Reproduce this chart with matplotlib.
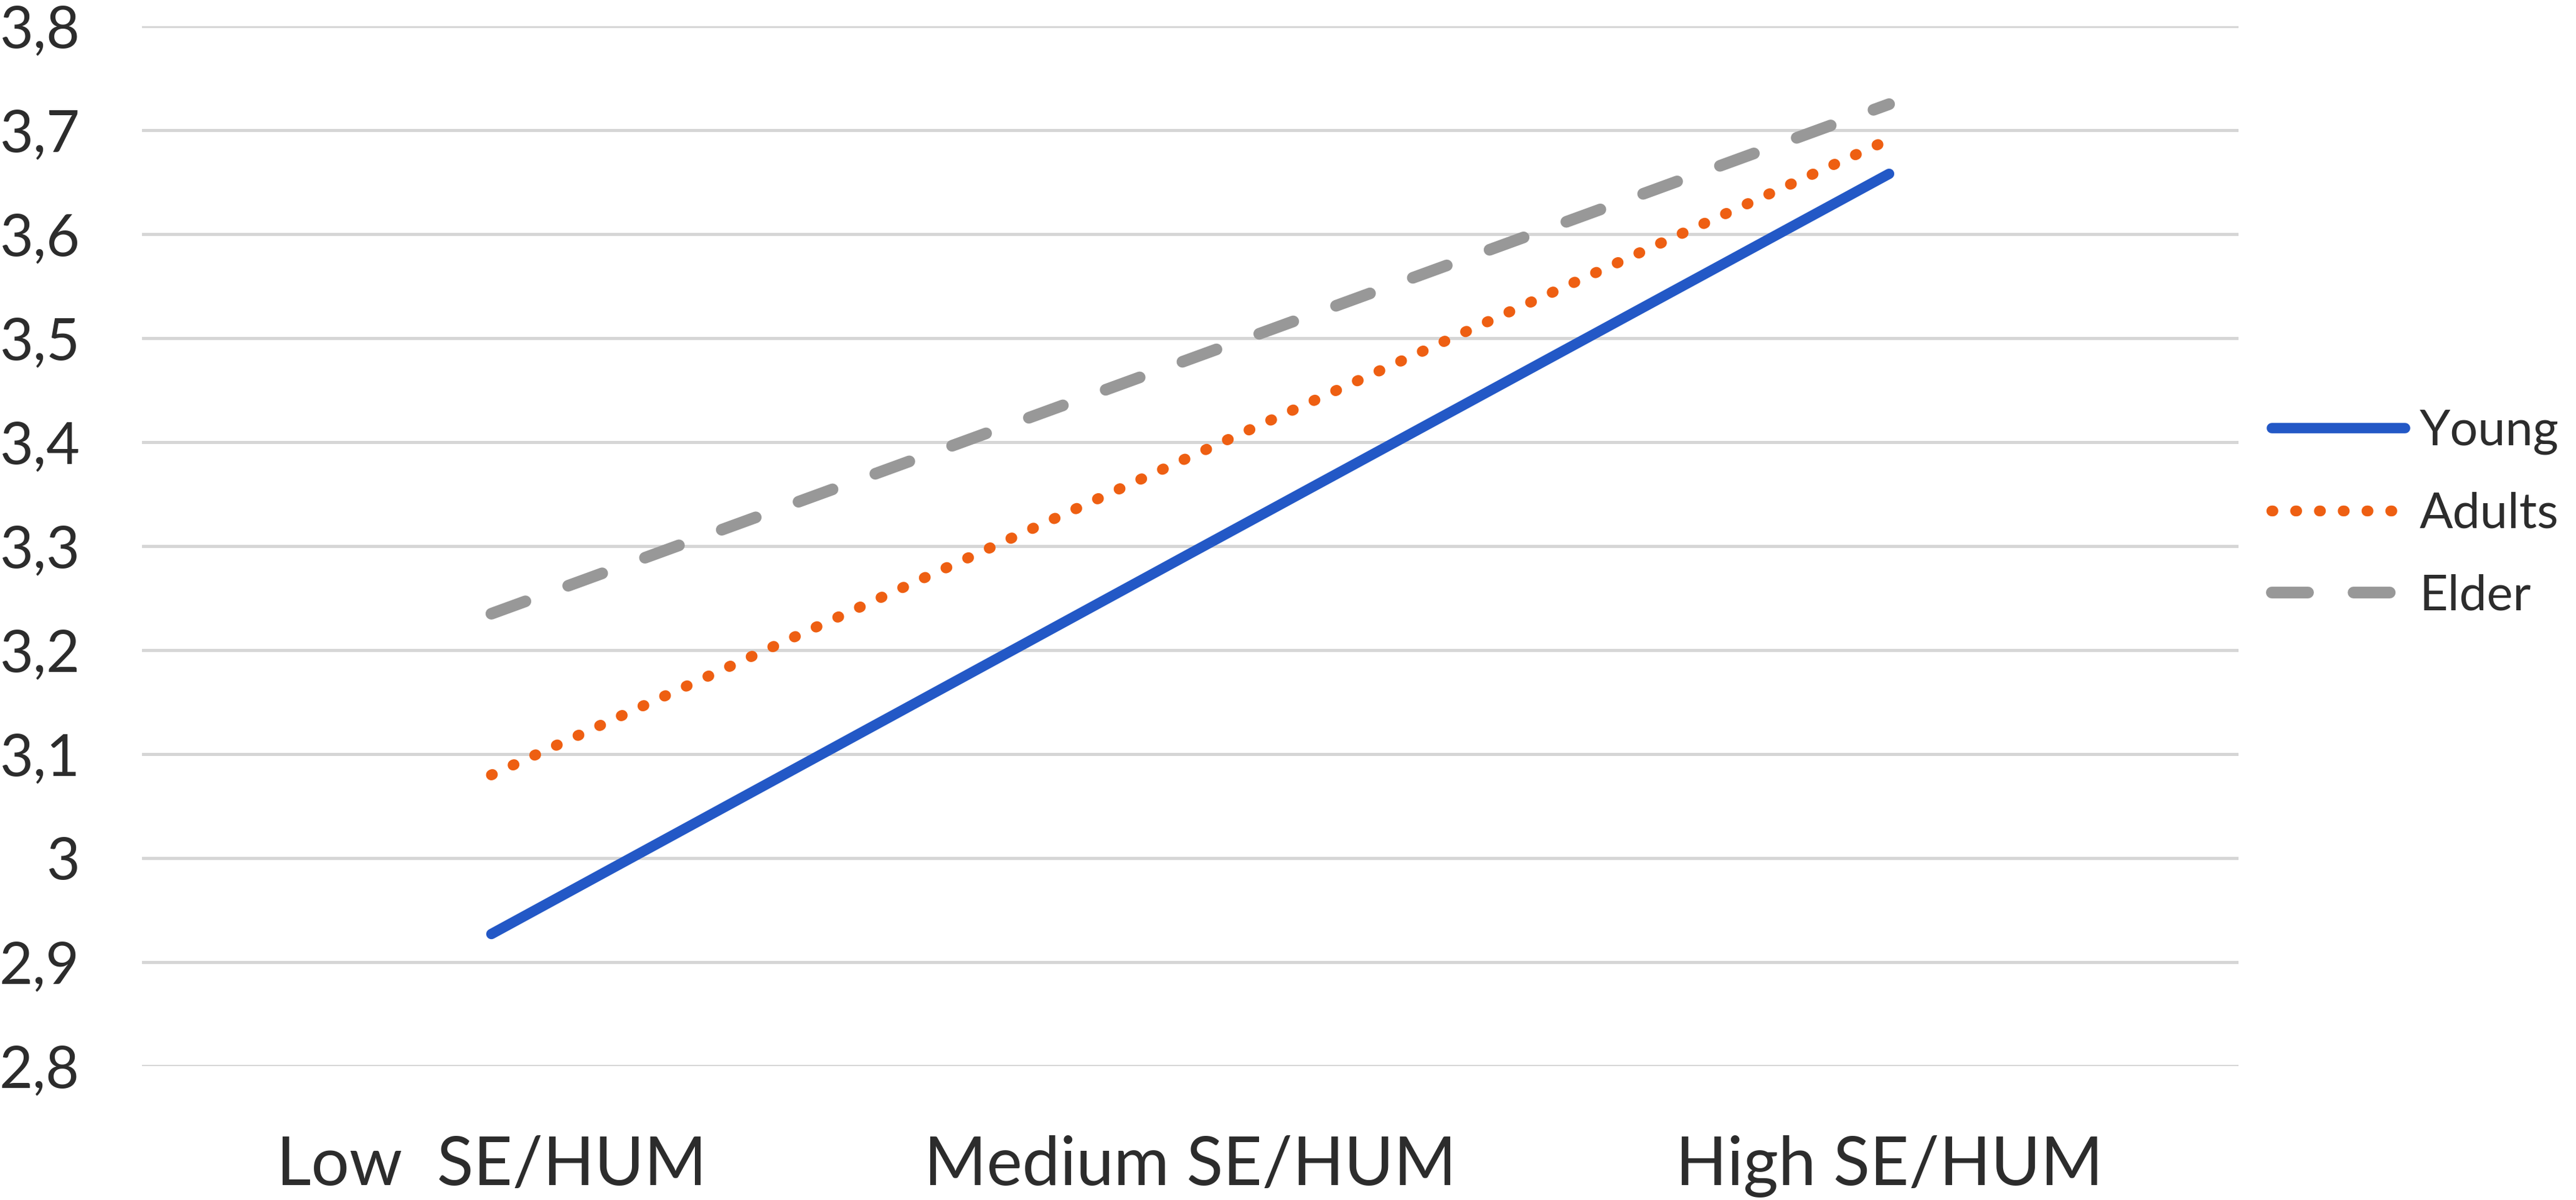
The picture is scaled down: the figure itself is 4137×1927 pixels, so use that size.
import matplotlib
matplotlib.use("Agg")
import matplotlib.pyplot as plt
from matplotlib.ticker import FixedLocator

categories = ["Low  SE/HUM", "Medium SE/HUM", "High SE/HUM"]
series_names = ["Young", "Adults", "Elder"]
young = [2.927, 3.293, 3.658]
adults = [3.080, 3.386, 3.691]
elder = [3.235, 3.480, 3.725]
y_ticks = [2.8, 2.9, 3.0, 3.1, 3.2, 3.3, 3.4, 3.5, 3.6, 3.7, 3.8]
y_tick_labels = ["2,8", "2,9", "3", "3,1", "3,2", "3,3", "3,4", "3,5", "3,6", "3,7", "3,8"]

plt.rcParams['font.family'] = ['Lato', 'DejaVu Sans']
TXT = '#2C2C2C'

W, H = 4137, 1927
fig = plt.figure(figsize=(W / 100, H / 100), dpi=100)
left, right = 228 / W, 3595 / W
top, bottom = 1 - 42 / H, 1 - 1712 / H
ax = fig.add_axes([left, bottom, right - left, top - bottom])

x = list(range(len(categories)))
ax.plot(x, young, color='#2358C6', lw=12, solid_capstyle='round', label=series_names[0], clip_on=False, zorder=3)
ax.plot(x, adults, color='#EE5F12', lw=12.5, dashes=(0.1, 2.1), dash_capstyle='round', label=series_names[1], clip_on=False, zorder=3)
ax.plot(x, elder, color='#989898', lw=13.5, dashes=(3.1, 3.9), dash_capstyle='round', label=series_names[2], clip_on=False, zorder=3)

ax.set_xlim(-0.5, len(categories) - 0.5)
ax.set_ylim(2.8, 3.8)
ax.yaxis.set_major_locator(FixedLocator(y_ticks))
ax.set_yticklabels(y_tick_labels)
ax.set_xticks(x)
ax.set_xticklabels(categories)
ax.grid(axis='y', color='#D6D6D6', lw=3.6, zorder=0)
ax.set_axisbelow(True)
for s in ax.spines.values():
    s.set_visible(False)
ax.tick_params(axis='y', length=0, pad=72, labelsize=67, labelcolor=TXT)
ax.tick_params(axis='x', length=0, pad=80, labelsize=78, labelcolor=TXT)

leg = ax.legend(loc='center left', bbox_to_anchor=(3648 / W, 1 - 825 / H), bbox_transform=fig.transFigure,
                frameon=False, fontsize=57, handlelength=2.7, handletextpad=0.3, labelspacing=0.75,
                borderpad=0, borderaxespad=0)
for t in leg.get_texts():
    t.set_color(TXT)

fig.savefig('out.png', dpi=100, facecolor='white')
